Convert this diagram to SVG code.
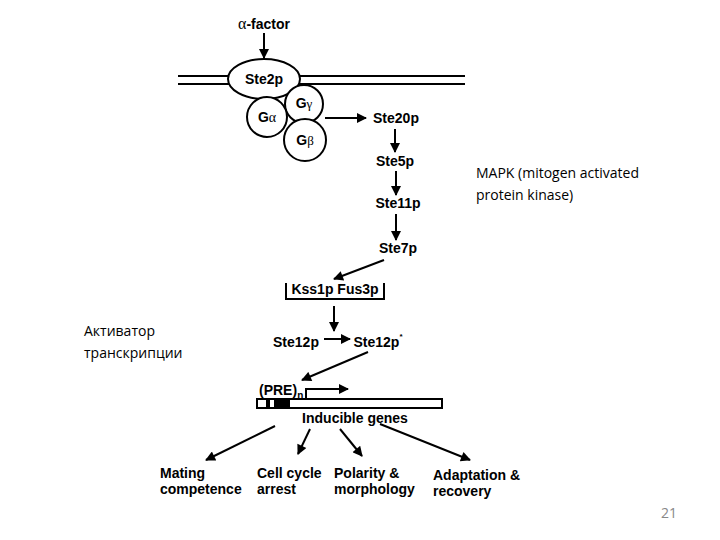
<svg xmlns="http://www.w3.org/2000/svg" width="720" height="540" viewBox="0 0 720 540">
<style>
.b{font-family:"Liberation Sans",Arial,sans-serif;font-weight:bold;font-size:14px;fill:#000}
.n{font-family:"Open Sans","Liberation Sans",sans-serif;font-size:14px;fill:#000}
.c{fill:#fff;stroke:#000;stroke-width:2}
.l{stroke:#000;stroke-width:2;fill:none}
</style>
<defs><marker id="a" viewBox="0 0 10 10" refX="9" refY="5" markerWidth="6" markerHeight="5" orient="auto"><path d="M0,0L10,5L0,10z"/></marker></defs>
<rect width="720" height="540" fill="#fff"/>
<g id="membrane"><line x1="178" y1="76" x2="465" y2="76" class="l" stroke-width="3"/><line x1="178" y1="84" x2="465" y2="84" class="l" stroke-width="3"/></g>
<g id="connectors" class="l">
<line x1="264" y1="33" x2="264" y2="58" marker-end="url(#a)"/>
<line x1="325" y1="118" x2="366" y2="118" marker-end="url(#a)"/>
<line x1="395" y1="129" x2="395" y2="152" marker-end="url(#a)"/>
<line x1="396" y1="171" x2="396" y2="195" marker-end="url(#a)"/>
<line x1="396" y1="214" x2="396" y2="240" marker-end="url(#a)"/>
<line x1="384" y1="260" x2="334" y2="279" marker-end="url(#a)"/>
<line x1="334" y1="306" x2="334" y2="331" marker-end="url(#a)"/>
<line x1="324" y1="339" x2="350" y2="339" marker-end="url(#a)"/>
<line x1="368" y1="352" x2="302" y2="380" marker-end="url(#a)"/>
<polyline points="306,399 306,389 348,389" marker-end="url(#a)"/>
<line x1="275" y1="426" x2="206" y2="460" marker-end="url(#a)"/>
<line x1="310" y1="429" x2="298" y2="454" marker-end="url(#a)"/>
<line x1="340" y1="429" x2="362" y2="456" marker-end="url(#a)"/>
<line x1="380" y1="424" x2="470" y2="460" marker-end="url(#a)"/>
</g>
<g id="alpha"><text x="264" y="29" class="b" text-anchor="middle"><tspan font-family="Liberation Serif" font-weight="normal" font-size="16">α</tspan>-factor</text></g>
<g id="ste2p"><ellipse cx="264" cy="79" rx="36" ry="20" class="c"/><text x="264" y="84" class="b" text-anchor="middle">Ste2p</text></g>
<g id="ggamma"><circle cx="304" cy="104" r="19" class="c"/><text x="304" y="108" class="b" text-anchor="middle">G<tspan font-family="Liberation Serif" font-weight="normal" font-size="13">γ</tspan></text></g>
<g id="galpha"><circle cx="267" cy="117" r="20" class="c"/><text x="267" y="122" class="b" text-anchor="middle">G<tspan font-family="Liberation Serif" font-weight="normal" font-size="14">α</tspan></text></g>
<g id="gbeta"><circle cx="305" cy="140" r="21" class="c"/><text x="305" y="145" class="b" text-anchor="middle">G<tspan font-family="Liberation Serif" font-weight="normal" font-size="13">β</tspan></text></g>
<g id="ste20p"><text x="396" y="123" class="b" text-anchor="middle">Ste20p</text></g>
<g id="ste5p"><text x="395" y="166" class="b" text-anchor="middle">Ste5p</text></g>
<g id="ste11p"><text x="398" y="208" class="b" text-anchor="middle">Ste11p</text></g>
<g id="ste7p"><text x="398" y="253" class="b" text-anchor="middle">Ste7p</text></g>
<g id="kss1p"><polyline points="286,283 286,299 384,299 384,283" class="l"/><text x="335" y="294" class="b" text-anchor="middle">Kss1p  Fus3p</text></g>
<g id="ste12p"><text x="296" y="347" class="b" text-anchor="middle">Ste12p</text></g>
<g id="ste12pstar"><text x="378" y="347" class="b" text-anchor="middle">Ste12p<tspan dy="-8" font-size="8">*</tspan></text></g>
<g id="pre"><text x="259" y="395" class="b">(PRE)<tspan dy="4" font-size="10">n</tspan></text></g>
<g id="gene"><rect x="257" y="399" width="185" height="9" fill="#fff" stroke="#000" stroke-width="2"/><rect x="266" y="399" width="4" height="9"/><rect x="274" y="399" width="16" height="9"/><text x="355" y="423" class="b" text-anchor="middle">Inducible genes</text></g>
<g id="mating"><text x="160" y="478" class="b">Mating</text><text x="160" y="494" class="b">competence</text></g>
<g id="cellcycle"><text x="257" y="478" class="b">Cell cycle</text><text x="257" y="494" class="b">arrest</text></g>
<g id="polarity"><text x="334" y="478" class="b">Polarity &amp;</text><text x="334" y="494" class="b">morphology</text></g>
<g id="adaptation"><text x="433" y="480" class="b">Adaptation &amp;</text><text x="433" y="496" class="b">recovery</text></g>
<g id="mapk"><text x="476" y="178" class="n">MAPK (mitogen activated</text><text x="476" y="200" class="n">protein kinase)</text></g>
<g id="activator"><text x="84" y="336" class="n">Активатор</text><text x="84" y="358" class="n">транскрипции</text></g>
<text x="677" y="518" class="n" font-size="11" text-anchor="end" style="fill:#888">21</text>
</svg>
